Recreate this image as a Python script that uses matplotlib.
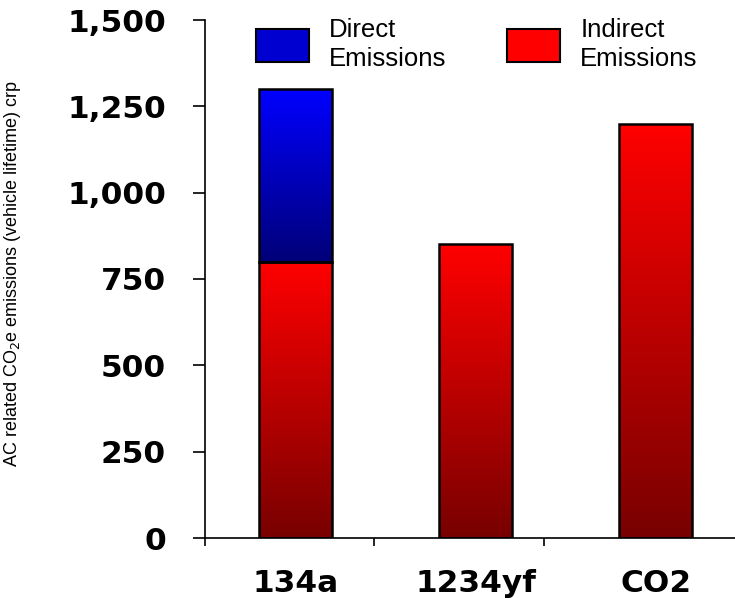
import numpy as np
import matplotlib.pyplot as plt
from matplotlib.colors import LinearSegmentedColormap
from matplotlib.patches import Patch

plt.rcParams['font.family'] = ['Liberation Sans', 'DejaVu Sans']

refrigerants = ['134a', '1234yf', 'CO2']
indirect = [800, 850, 1200]
direct = [500, 0, 0]
yticks = [0, 250, 500, 750, 1000, 1250, 1500]

reds = LinearSegmentedColormap.from_list('reds', ['#780000', '#ff0000'])
blues = LinearSegmentedColormap.from_list('blues', ['#000078', '#0000ff'])

fig = plt.figure(figsize=(7.35, 5.98), dpi=100)
ax = fig.add_axes([205 / 735, 60 / 598, 530 / 735, 518 / 598])

xpos = 0.535 + 1.063 * np.arange(len(refrigerants))
width = 0.435
grad = np.linspace(0, 1, 256).reshape(-1, 1)


def gradient_bar(x, bottom, height, cmap):
    if height <= 0:
        return
    rect = ax.bar(x, height, width, bottom=bottom, facecolor='none',
                  edgecolor='black', linewidth=1.8, zorder=3)[0]
    im = ax.imshow(grad, cmap=cmap, origin='lower', aspect='auto',
                   extent=[x - width / 2, x + width / 2, bottom, bottom + height],
                   zorder=2)
    im.set_clip_path(rect)


for x, ind, d in zip(xpos, indirect, direct):
    gradient_bar(x, 0, ind, reds)
    gradient_bar(x, ind, d, blues)

ax.set_xlim(0, 3.13)
ax.set_ylim(0, 1500)

for s in ['top', 'right']:
    ax.spines[s].set_visible(False)
ax.spines['left'].set_linewidth(1.2)
ax.spines['bottom'].set_linewidth(1.2)

bold = dict(family='DejaVu Sans', fontsize=22.5, fontweight='bold')
ax.set_yticks(yticks)
ax.set_yticklabels(['{:,}'.format(v) for v in yticks], **bold)
ax.tick_params(axis='y', direction='out', length=9, width=1.2, pad=19)

ax.set_xticks([0, 1, 2])
ax.set_xticklabels([])
ax.tick_params(axis='x', which='major', direction='out', length=6, width=1.2)
ax.set_xticks(xpos, minor=True)
ax.set_xticklabels(refrigerants, minor=True, **bold)
ax.tick_params(axis='x', which='minor', length=0, pad=22)

ax.set_ylabel('AC related CO$_2$e emissions (vehicle lifetime) crp',
              fontsize=13)
ax.yaxis.set_label_coords(-0.343, 0.51)

handles = [Patch(facecolor='#0000d0', edgecolor='black', linewidth=1.5),
           Patch(facecolor='#ff0000', edgecolor='black', linewidth=1.5)]
leg = ax.legend(handles, ['Direct\nEmissions', 'Indirect\nEmissions'],
                loc='upper left', bbox_to_anchor=(0.096, 1.003), ncol=2,
                frameon=False, fontsize=18.5, handlelength=2.05,
                handleheight=1.6, handletextpad=0.8, columnspacing=2.36,
                borderpad=0, borderaxespad=0)
for t in leg.get_texts():
    t.set_linespacing(1.25)

fig.savefig('out.png', dpi=100)
